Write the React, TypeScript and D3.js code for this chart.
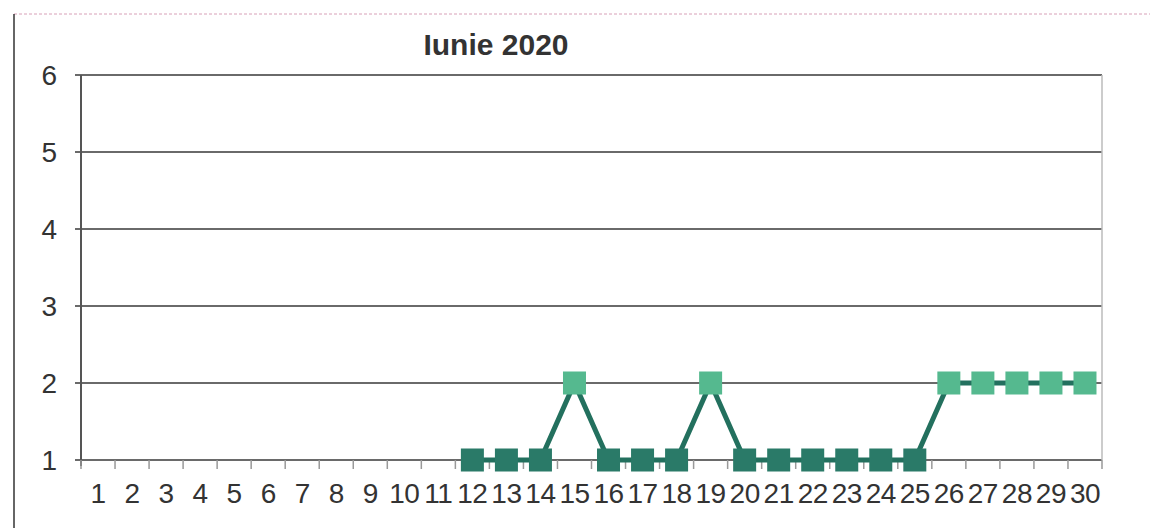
import React from "react";
import * as d3 from "d3";

const days: string[] = Array.from({ length: 30 }, (_, i) => String(i + 1));
const values: (number | null)[] = [
  null, null, null, null, null, null, null, null, null, null, null,
  1, 1, 1, 2, 1, 1, 1, 2, 1, 1, 1, 1, 1, 1, 2, 2, 2, 2, 2,
];
const yTicks: number[] = [1, 2, 3, 4, 5, 6];
const title = "Iunie 2020";

export default function App() {
  const W = 1164, H = 528;
  const left = 81, right = 1102, top = 75, bottom = 460;
  const x = d3.scaleBand<string>().domain(days).range([left, right]);
  const y = d3.scaleLinear().domain([1, 6]).range([bottom, top]);
  const pts = days
    .map((d, i) => ({ d, v: values[i] }))
    .filter((p) => p.v !== null) as { d: string; v: number }[];
  const line = d3
    .line<{ d: string; v: number }>()
    .x((p) => (x(p.d) as number) + x.bandwidth() / 2)
    .y((p) => y(p.v));
  const font = "Arial, 'Liberation Sans', sans-serif";
  const ticksX = d3.range(days.length + 1).map((i) => left + i * x.step());
  return (
    <svg width={W} height={H} style={{ position: "absolute", left: 0, top: 0, background: "#fff" }}>
      <rect x={0} y={0} width={W} height={H} fill="#fff" />
      <line x1={14} y1={14} x2={1150} y2={14} stroke="#d8a0b8" strokeWidth={1} strokeDasharray="3,2" />
      <line x1={14} y1={14} x2={14} y2={528} stroke="#333" strokeWidth={1.5} />
      <text x={496} y={55} fontFamily={font} fontSize={30} fontWeight="bold" fill="#333" textAnchor="middle">
        {title}
      </text>
      {yTicks.map((t) => (
        <g key={t}>
          <line x1={left - 6} x2={right} y1={y(t)} y2={y(t)} stroke="#6a6a6a" strokeWidth={2} />
          <text x={57} y={y(t) + 10} fontFamily={font} fontSize={28} fill="#333" textAnchor="end">
            {t}
          </text>
        </g>
      ))}
      <line x1={right} x2={right} y1={top} y2={bottom} stroke="#bbb" strokeWidth={1.5} />
      <line x1={left} x2={left} y1={top} y2={bottom + 6} stroke="#555" strokeWidth={2} />
      {ticksX.map((tx, i) => (
        <line key={i} x1={tx} x2={tx} y1={bottom} y2={bottom + 9} stroke="#999" strokeWidth={1.5} />
      ))}
      {days.map((d) => (
        <text
          key={d}
          x={(x(d) as number) + x.bandwidth() / 2}
          y={503}
          fontFamily={font}
          fontSize={28}
          fill="#333"
          textAnchor="middle"
          letterSpacing={-0.5}
        >
          {d}
        </text>
      ))}
      <path d={line(pts) || ""} fill="none" stroke="#23705e" strokeWidth={5} />
      {pts.map((p) => {
        const cx = (x(p.d) as number) + x.bandwidth() / 2;
        const cy = y(p.v);
        const s = 23;
        return (
          <rect
            key={p.d}
            x={cx - s / 2}
            y={cy - s / 2}
            width={s}
            height={s}
            fill={p.v >= 2 ? "#55b98f" : "#2a7a68"}
          />
        );
      })}
    </svg>
  );
}
